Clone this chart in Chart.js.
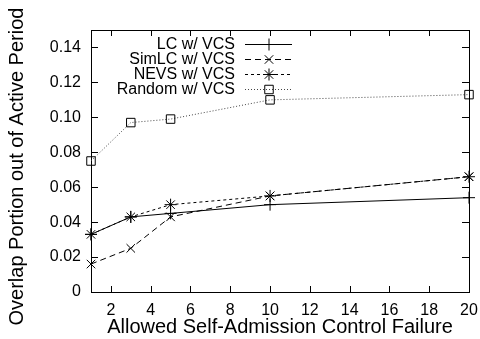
<!DOCTYPE html>
<html lang="en">
<head>
  <meta charset="UTF-8" />
  <title>Overlap Portion vs Allowed Failure</title>
  <script src="https://cdn.jsdelivr.net/npm/chart.js"></script>
  <style>
    html, body { margin: 0; padding: 0; background: #fff; }
    #wrap { width: 480px; height: 339px; }
  </style>
</head>
<body>
  <div id="wrap"><canvas id="overlapChart" width="480" height="339"></canvas></div>

  <script>
    // values
    const failures = [1, 3, 5, 10, 20];
    const lcVcs = [0.033, 0.043, 0.045, 0.050, 0.054];
    const simLcVcs = [0.016, 0.025, 0.043, 0.055, 0.066];
    const nevsVcs = [0.033, 0.043, 0.050, 0.055, 0.066];
    const randomVcs = [0.075, 0.097, 0.099, 0.110, 0.113];

    const xTicks = [2, 4, 6, 8, 10, 12, 14, 16, 18, 20];
    const yTicks = [0, 0.02, 0.04, 0.06, 0.08, 0.1, 0.12, 0.14];

    const FONT = "'Liberation Sans', Arial, Helvetica, sans-serif";

    function series(label, values, dash, style, color) {
      return {
        label,
        data: failures.map((x, i) => ({ x, y: values[i] })),
        borderColor: color,
        backgroundColor: 'transparent',
        borderWidth: 1,
        borderDash: dash,
        pointStyle: style,
        pointRadius: 6,
        pointBorderColor: '#000',
        pointBackgroundColor: 'transparent',
        pointBorderWidth: 1,
        tension: 0,
        clip: false
      };
    }

    // gnuplot-ish frame with inward ticks on all four sides
    const framePlugin = {
      id: 'frame',
      beforeDatasetsDraw(chart) {
        const { ctx, chartArea: a, scales } = chart;
        ctx.save();
        ctx.strokeStyle = '#000';
        ctx.lineWidth = 1;
        ctx.strokeRect(a.left + 0.5, a.top + 0.5, a.right - a.left, a.bottom - a.top);
        ctx.beginPath();
        xTicks.forEach(v => {
          const px = Math.round(scales.x.getPixelForValue(v)) + 0.5;
          ctx.moveTo(px, a.bottom); ctx.lineTo(px, a.bottom - 6);
          ctx.moveTo(px, a.top); ctx.lineTo(px, a.top + 6);
        });
        yTicks.forEach(v => {
          const py = Math.round(scales.y.getPixelForValue(v)) + 0.5;
          ctx.moveTo(a.left, py); ctx.lineTo(a.left + 7, py);
          ctx.moveTo(a.right, py); ctx.lineTo(a.right - 7, py);
        });
        ctx.stroke();
        ctx.restore();
      }
    };

    // legend inside the plot: right-aligned text, then line sample with marker
    const keyPlugin = {
      id: 'key',
      afterDatasetsDraw(chart) {
        const ctx = chart.ctx;
        ctx.save();
        ctx.font = '16px ' + FONT;
        ctx.textAlign = 'right';
        ctx.textBaseline = 'middle';
        chart.data.datasets.forEach((ds, i) => {
          const y = 44 + i * 15;
          ctx.fillStyle = '#000';
          ctx.fillText(ds.label, 235, y + 1);
          ctx.strokeStyle = ds.borderColor;
          ctx.lineWidth = 1;
          ctx.setLineDash(ds.borderDash);
          ctx.beginPath();
          ctx.moveTo(245, y + 0.5);
          ctx.lineTo(292, y + 0.5);
          ctx.stroke();
          ctx.setLineDash([]);
          ctx.strokeStyle = '#000';
          ctx.fillStyle = 'rgba(0,0,0,0)';
          Chart.helpers.drawPoint(ctx, {
            pointStyle: ds.pointStyle, radius: 6, borderWidth: 1, rotation: 0
          }, 269, y + 0.5);
        });
        ctx.restore();
      }
    };

    new Chart(document.getElementById('overlapChart').getContext('2d'), {
      type: 'line',
      data: {
        datasets: [
          series('LC w/ VCS', lcVcs, [], 'cross', '#000'),
          series('SimLC w/ VCS', simLcVcs, [6, 4], 'crossRot', '#000'),
          series('NEVS w/ VCS', nevsVcs, [3, 3], 'star', '#000'),
          series('Random w/ VCS', randomVcs, [1, 2], 'rect', '#444')
        ]
      },
      options: {
        responsive: false,
        animation: false,
        events: [],
        layout: { padding: { top: 30, right: 11, left: 0, bottom: 0 } },
        plugins: {
          legend: { display: false },
          tooltip: { enabled: false }
        },
        scales: {
          x: {
            type: 'linear',
            min: 1,
            max: 20,
            afterBuildTicks: s => { s.ticks = xTicks.map(v => ({ value: v })); },
            afterFit: s => { s.height = 47; s.paddingLeft = 0; s.paddingRight = 0; },
            grid: { display: false, drawTicks: false },
            border: { display: false },
            ticks: { color: '#000', padding: 9, maxRotation: 0, font: { family: FONT, size: 16 } },
            title: {
              display: true,
              text: 'Allowed Self-Admission Control Failure',
              color: '#000',
              padding: 0,
              font: { family: FONT, size: 20 }
            }
          },
          y: {
            min: 0,
            max: 0.15,
            afterBuildTicks: s => { s.ticks = yTicks.map(v => ({ value: v })); },
            afterFit: s => { s.width = 91; s.paddingTop = 0; s.paddingBottom = 0; },
            grid: { display: false, drawTicks: false },
            border: { display: false },
            ticks: { color: '#000', padding: 10, font: { family: FONT, size: 16 } },
            title: {
              display: true,
              // trailing spaces nudge the rotated title a little lower, as in the original
              text: 'Overlap Portion out of Active Period  ',
              color: '#000',
              padding: { top: 5, bottom: 0 },
              font: { family: FONT, size: 20 }
            }
          }
        }
      },
      plugins: [framePlugin, keyPlugin]
    });
  </script>
</body>
</html>
